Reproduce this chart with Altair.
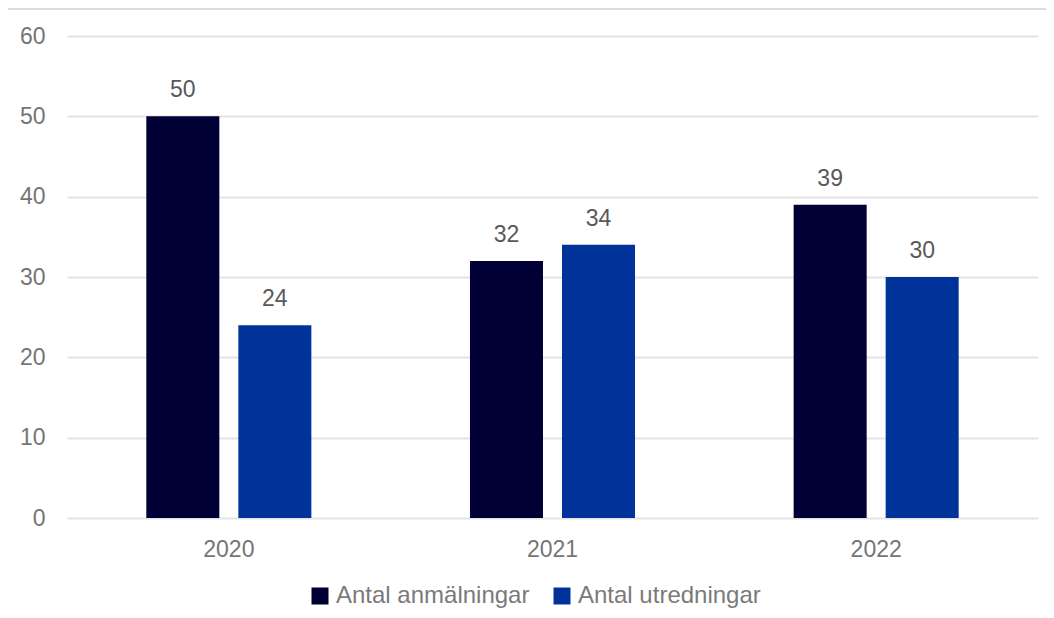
import altair as alt
import pandas as pd

years = ["2020", "2021", "2022"]
series = ["Antal anmälningar", "Antal utredningar"]
anmalningar = [50, 32, 39]
utredningar = [24, 34, 30]
colors = ["#000036", "#003399"]
y_ticks = [0, 10, 20, 30, 40, 50, 60]

rows = []
for i, yr in enumerate(years):
    rows.append({"year": yr, "series": series[0], "value": anmalningar[i]})
    rows.append({"year": yr, "series": series[1], "value": utredningar[i]})
df = pd.DataFrame(rows)

font = "Liberation Sans"

x = alt.X(
    "year:N", sort=years, title=None,
    scale=alt.Scale(paddingInner=0, paddingOuter=0),
    axis=alt.Axis(labelAngle=0, labelFontSize=23, labelColor="#757575",
                  labelPadding=20, ticks=False, domain=False, labelFont=font,
                  grid=False),
)
xo = alt.XOffset("series:N", sort=series,
                 scale=alt.Scale(paddingInner=0.2065, paddingOuter=0.862))
y = alt.Y(
    "value:Q", title=None, scale=alt.Scale(domain=[0, 60]),
    axis=alt.Axis(values=y_ticks, labelFontSize=23, labelColor="#757575",
                  labelPadding=22, ticks=False, domain=False, labelFont=font,
                  grid=True, gridColor="#e3e3e3", gridWidth=2),
)

bars = alt.Chart(df).mark_bar().encode(
    x=x, xOffset=xo, y=y,
    color=alt.Color(
        "series:N", sort=series,
        scale=alt.Scale(domain=series, range=colors),
        legend=alt.Legend(
            title=None, orient="none", legendX=241, legendY=548,
            direction="horizontal", symbolType="square", symbolSize=289,
            symbolStrokeWidth=0, labelFontSize=24, labelColor="#7a7a7a",
            labelFont=font, labelOffset=4, columnPadding=20, padding=0,
            labelLimit=0,
        ),
    ),
)

labels = alt.Chart(df).mark_text(
    baseline="alphabetic", dy=-19, fontSize=23, color="#595959", font=font
).encode(x=x, xOffset=xo, y=y, text=alt.Text("value:Q"))

top_border = alt.Chart(df).mark_rule(color="#dcdcdc", strokeWidth=1.5).encode(
    x=alt.value(-59), x2=alt.value(979), y=alt.value(-27)
)

chart = alt.layer(top_border, bars, labels).properties(
    width=971, height=482,
    autosize=alt.AutoSizeParams(type="none"),
    padding={"left": 59, "top": 28, "right": 8, "bottom": 92},
    background="white",
).configure_view(stroke=None, strokeWidth=0)

chart.save("out.html", embed_options={"renderer": "svg", "actions": False})
